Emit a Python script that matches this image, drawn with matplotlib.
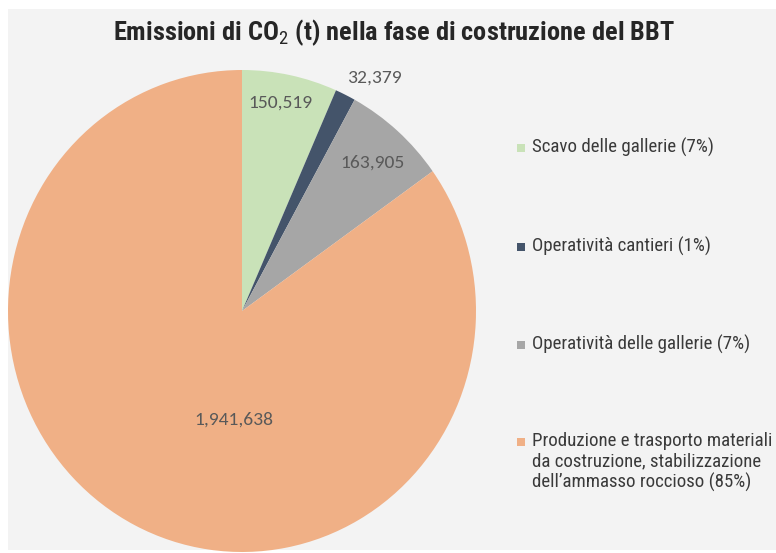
import numpy as np
import matplotlib
matplotlib.use("Agg")
import matplotlib.pyplot as plt
from matplotlib.patches import Rectangle

# CO2 emissions during the construction phase (tonnes)
categories = [
    "Scavo delle gallerie (7%)",
    "Operatività cantieri (1%)",
    "Operatività delle gallerie (7%)",
    "Produzione e trasporto materiali\nda costruzione, stabilizzazione\ndell\u2019ammasso roccioso (85%)",
]
values = [150519, 32379, 163905, 1941638]
value_labels = ["150,519", "32,379", "163,905", "1,941,638"]
colors = ["#c9e2b8", "#44546a", "#a6a6a6", "#f0b086"]

title = "Emissioni di CO$_2$ (t) nella fase di costruzione del BBT"

W, H = 776, 553
fig = plt.figure(figsize=(W / 100, H / 100), dpi=100)
fig.patch.set_facecolor("white")
plt.rcParams["mathtext.fontset"] = "custom"
plt.rcParams["mathtext.rm"] = "Roboto Condensed"
plt.rcParams["mathtext.bf"] = "Roboto Condensed:bold"

# light grey chart panel
fig.patches.append(Rectangle((8 / W, 1 - 550 / H), 1 - 8 / W, (550 - 9) / H,
                             transform=fig.transFigure, facecolor="#f3f3f3",
                             edgecolor="none", zorder=-5))

COND = ["Roboto Condensed", "DejaVu Sans"]

# pie axes box in pixels: left 8, right 476, top 70, bottom 552
ax = fig.add_axes([8 / W, 1 - 552 / H, 468 / W, 482 / H])
ax.set_facecolor("none")
wedges, _ = ax.pie(values, colors=colors, startangle=90, counterclock=False,
                   radius=1.0, wedgeprops=dict(linewidth=0))
ax.set_aspect("auto")
ax.set_xlim(-1, 1)
ax.set_ylim(-1, 1)
ax.axis("off")

# value labels: radial distance and angular shift from each wedge's middle
label_r = [0.88, 1.12, 0.83, 0.45]
label_shift = [1.0, -4.0, -0.5, 23.0]
for w, txt, r, sh in zip(wedges, value_labels, label_r, label_shift):
    mid = np.deg2rad((w.theta1 + w.theta2) / 2 + sh)
    ax.text(r * np.cos(mid), r * np.sin(mid), txt, ha="center", va="center",
            fontsize=14, color="#595959", family=["Carlito", "DejaVu Sans"])

fig.text(394 / W, 1 - 33 / H, title, ha="center", va="center",
         fontsize=19, fontweight="bold", color="#262626", family=COND)

# legend
leg_y = [148, 247, 345, 442]
for c, lab, y in zip(colors, categories, leg_y):
    fig.patches.append(Rectangle((517 / W, 1 - (y + 4) / H), 8 / W, 8 / H,
                                 transform=fig.transFigure, facecolor=c,
                                 edgecolor="none"))
    fig.text(532 / W, 1 - (y - 10) / H, lab, ha="left", va="top",
             fontsize=13.6, color="#3a3a3a", family=COND, linespacing=1.15)

fig.savefig("out.png", dpi=100)
